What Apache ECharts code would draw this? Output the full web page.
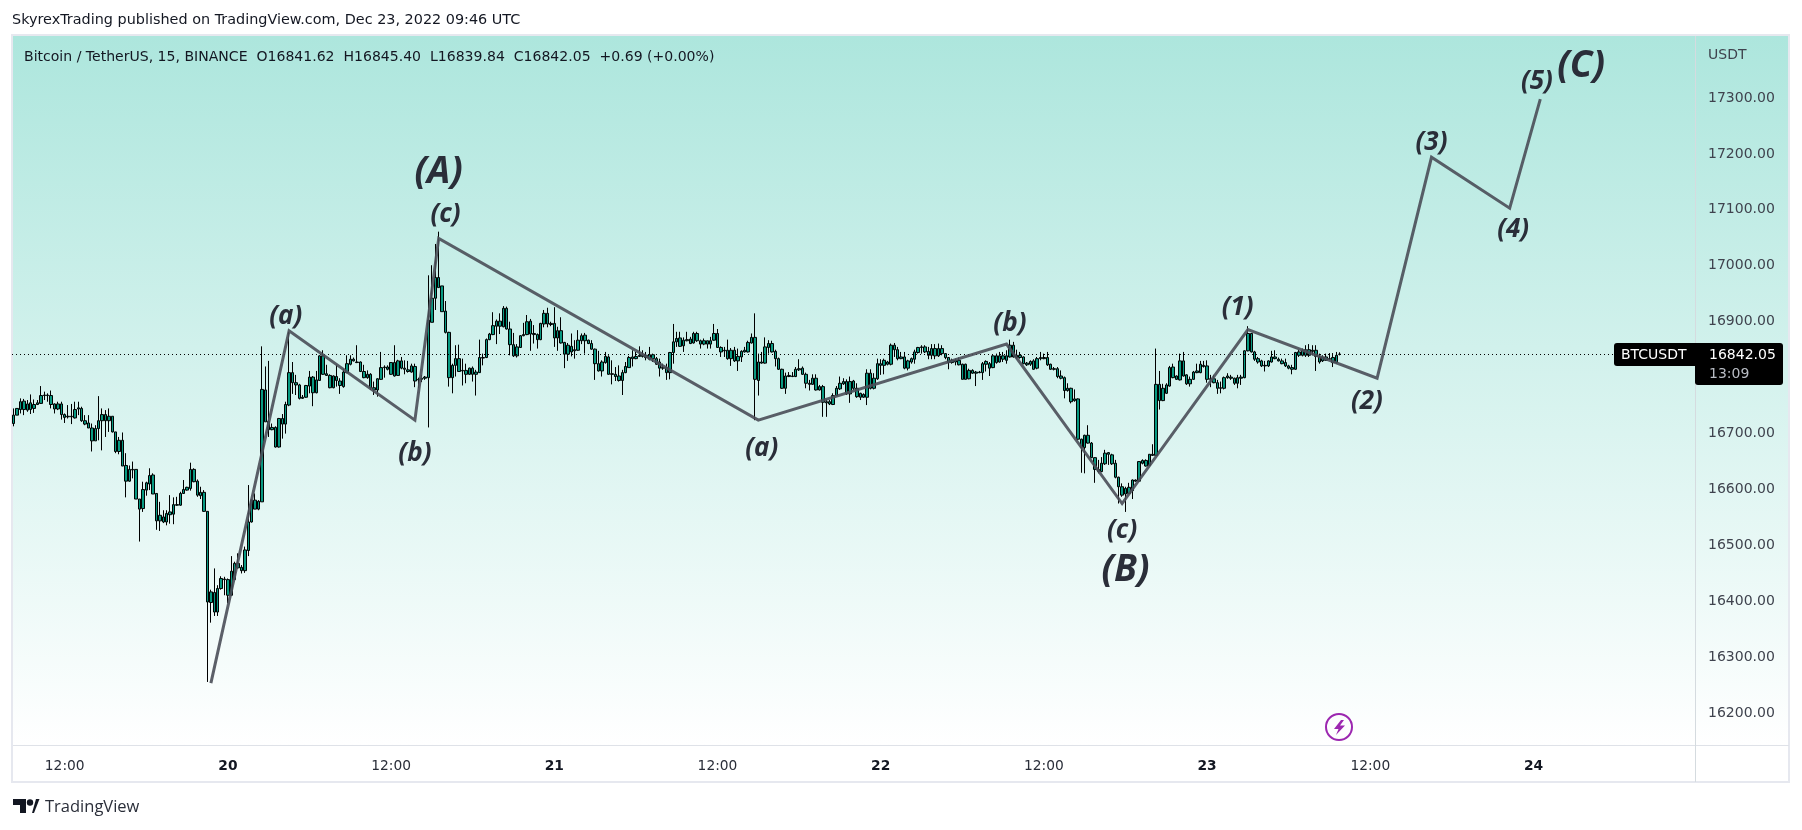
<!DOCTYPE html>
<html><head><meta charset="utf-8">
<style>html,body{margin:0;padding:0;background:#fff}#c{width:1802px;height:830px}</style>
<script src="https://cdn.jsdelivr.net/npm/echarts@6/dist/echarts.min.js"></script>
</head><body><div id="c"></div>
<script>
// 15-minute bars, first bar Dec 19 08:15.
// Both candle directions are drawn alike, so rows hold: body top, body bottom, high, low.
const bars = [
[16733,16718,16745,16713],[16745,16733,16745,16733],[16757,16743,16763,16736],[16758,16743,16762,16733],[16753,16742,16760,16739],
[16755,16743,16770,16735],[16752,16745,16761,16737],[16755,16752,16760,16751],[16768,16754,16785,16753],[16769,16768,16775,16760],
[16769,16768,16772,16757],[16768,16752,16777,16745],[16753,16744,16754,16736],[16753,16744,16757,16742],[16753,16734,16757,16725],
[16734,16729,16736,16719],[16731,16730,16751,16727],[16731,16730,16753,16717],[16743,16728,16757,16727],[16746,16744,16757,16733],
[16745,16723,16748,16721],[16723,16717,16733,16715],[16719,16710,16733,16710],[16710,16687,16718,16668],[16709,16687,16715,16687],
[16723,16709,16767,16688],[16734,16723,16745,16670],[16734,16723,16742,16694],[16731,16723,16745,16703],[16731,16703,16731,16702],
[16703,16668,16703,16665],[16688,16668,16694,16663],[16688,16642,16702,16642],[16643,16615,16665,16586],[16636,16615,16643,16614],
[16636,16635,16650,16620],[16636,16583,16636,16583],[16583,16565,16583,16507],[16600,16566,16614,16560],[16612,16599,16614,16589],
[16625,16610,16638,16599],[16626,16592,16629,16592],[16593,16544,16593,16528],[16554,16544,16578,16526],[16551,16542,16563,16540],
[16557,16542,16563,16536],[16560,16555,16590,16539],[16573,16556,16586,16538],[16573,16572,16587,16571],[16593,16572,16596,16571],
[16600,16593,16617,16592],[16604,16599,16605,16598],[16636,16602,16648,16598],[16636,16614,16638,16613],[16615,16590,16618,16587],
[16595,16589,16605,16583],[16595,16561,16599,16560],[16561,16399,16561,16256],[16417,16398,16421,16362],[16416,16381,16459,16374],
[16423,16381,16429,16374],[16441,16423,16445,16421],[16440,16439,16444,16411],[16439,16411,16441,16397],[16454,16411,16481,16410],
[16468,16439,16471,16439],[16468,16460,16486,16459],[16461,16455,16465,16450],[16492,16455,16498,16451],[16542,16491,16608,16481],
[16581,16542,16582,16541],[16581,16565,16593,16565],[16579,16565,16581,16563],[16779,16578,16856,16578],[16778,16721,16820,16721],
[16722,16707,16830,16694],[16711,16707,16718,16706],[16711,16676,16713,16675],[16727,16676,16728,16675],[16727,16717,16735,16691],
[16752,16717,16757,16700],[16809,16751,16882,16749],[16809,16791,16828,16771],[16791,16787,16805,16769],[16787,16763,16789,16761],
[16765,16763,16769,16762],[16786,16765,16787,16764],[16801,16785,16812,16772],[16801,16773,16803,16749],[16796,16773,16812,16772],
[16839,16795,16840,16794],[16839,16806,16849,16805],[16807,16804,16823,16803],[16804,16782,16806,16781],[16803,16782,16804,16781],
[16802,16795,16823,16784],[16794,16786,16799,16771],[16810,16784,16816,16782],[16825,16809,16840,16808],[16833,16824,16840,16822],
[16833,16830,16836,16829],[16828,16827,16858,16826],[16828,16811,16829,16810],[16811,16800,16823,16799],[16806,16800,16813,16798],
[16806,16782,16808,16778],[16782,16778,16793,16769],[16798,16778,16799,16766],[16818,16797,16846,16796],[16819,16818,16822,16800],
[16819,16815,16822,16813],[16827,16806,16828,16805],[16827,16803,16858,16802],[16830,16804,16832,16803],[16830,16817,16837,16815],
[16817,16815,16831,16806],[16814,16811,16830,16809],[16821,16810,16825,16809],[16820,16794,16825,16783],[16797,16796,16800,16781],
[16799,16797,16805,16792],[16801,16799,16803,16796],[16903,16800,16983,16711],[16942,16899,17001,16899],[16979,16942,17039,16921],
[16979,16961,17061,16961],[16964,16918,16964,16918],[16919,16881,16937,16879],[16881,16800,16882,16784],[16822,16800,16825,16772],
[16834,16822,16858,16802],[16834,16811,16859,16811],[16813,16812,16834,16786],[16813,16806,16825,16790],[16817,16806,16818,16805],
[16817,16806,16820,16793],[16810,16806,16814,16768],[16836,16809,16868,16809],[16836,16835,16843,16822],[16868,16836,16870,16835],
[16878,16868,16880,16867],[16893,16877,16917,16876],[16901,16892,16904,16860],[16901,16892,16915,16878],[16924,16891,16928,16890],
[16924,16887,16927,16886],[16887,16859,16900,16840],[16859,16839,16880,16837],[16855,16839,16860,16836],[16875,16854,16876,16853],
[16877,16875,16898,16874],[16900,16877,16912,16876],[16901,16878,16905,16848],[16879,16877,16894,16861],[16877,16868,16879,16852],
[16897,16868,16898,16867],[16915,16896,16921,16890],[16915,16896,16925,16890],[16897,16895,16900,16892],[16897,16871,16926,16855],
[16884,16871,16891,16848],[16884,16862,16908,16861],[16863,16842,16864,16817],[16858,16842,16862,16830],[16856,16846,16879,16838],
[16850,16848,16867,16834],[16867,16849,16885,16848],[16875,16866,16879,16860],[16876,16866,16880,16843],[16867,16861,16868,16860],
[16861,16851,16867,16850],[16851,16825,16852,16796],[16825,16812,16848,16811],[16828,16812,16831,16802],[16838,16827,16846,16825],
[16837,16806,16840,16805],[16807,16806,16831,16788],[16806,16802,16819,16794],[16803,16795,16822,16793],[16809,16795,16814,16769],
[16820,16809,16828,16808],[16836,16818,16839,16818],[16837,16834,16849,16820],[16838,16834,16846,16833],[16840,16838,16856,16837],
[16840,16838,16849,16836],[16840,16836,16846,16831],[16841,16833,16855,16831],[16841,16834,16843,16828],[16834,16824,16837,16823],
[16828,16817,16834,16802],[16818,16817,16825,16814],[16818,16809,16825,16796],[16845,16809,16846,16797],[16864,16845,16896,16825],
[16870,16864,16882,16855],[16871,16856,16882,16855],[16867,16857,16872,16846],[16868,16866,16882,16865],[16869,16861,16873,16860],
[16879,16862,16882,16861],[16879,16866,16882,16864],[16866,16860,16868,16852],[16866,16860,16870,16858],[16866,16860,16866,16852],
[16866,16860,16873,16852],[16879,16867,16896,16866],[16879,16854,16887,16853],[16854,16846,16856,16837],[16849,16848,16855,16837],
[16849,16834,16868,16832],[16849,16834,16853,16821],[16849,16830,16855,16828],[16838,16830,16852,16812],[16847,16837,16849,16828],
[16849,16846,16855,16845],[16863,16846,16866,16845],[16872,16862,16879,16861],[16872,16797,16915,16724],[16828,16795,16843,16768],
[16828,16826,16846,16825],[16855,16826,16872,16825],[16861,16854,16867,16843],[16861,16846,16866,16845],[16847,16834,16850,16820],
[16834,16815,16836,16814],[16815,16781,16816,16780],[16803,16781,16809,16771],[16804,16802,16810,16801],[16803,16802,16810,16801],
[16815,16802,16819,16801],[16816,16814,16833,16812],[16817,16806,16820,16805],[16806,16790,16809,16781],[16790,16788,16796,16777],
[16799,16788,16806,16787],[16799,16778,16806,16777],[16784,16778,16787,16777],[16784,16756,16787,16730],[16757,16755,16761,16730],
[16757,16753,16760,16751],[16768,16752,16772,16751],[16781,16768,16785,16767],[16790,16780,16802,16778],[16793,16789,16799,16787],
[16793,16771,16797,16769],[16793,16771,16802,16755],[16794,16781,16796,16778],[16781,16766,16790,16764],[16772,16765,16773,16760],
[16770,16765,16772,16764],[16808,16765,16815,16751],[16808,16781,16815,16779],[16799,16781,16808,16779],[16825,16798,16834,16796],
[16825,16822,16833,16805],[16831,16822,16834,16806],[16828,16824,16830,16822],[16858,16824,16861,16822],[16858,16850,16862,16837],
[16850,16834,16855,16831],[16837,16834,16846,16833],[16837,16817,16846,16815],[16830,16817,16832,16813],[16834,16828,16836,16825],
[16846,16833,16850,16825],[16854,16845,16855,16843],[16855,16854,16858,16843],[16855,16846,16858,16844],[16847,16840,16855,16833],
[16852,16840,16860,16833],[16852,16839,16860,16833],[16852,16839,16861,16837],[16852,16843,16858,16840],[16843,16836,16844,16833],
[16836,16827,16837,16815],[16831,16827,16834,16825],[16831,16828,16834,16822],[16831,16823,16836,16822],[16824,16797,16825,16797],
[16824,16797,16825,16797],[16813,16798,16816,16797],[16813,16808,16815,16807],[16810,16808,16812,16785],[16810,16809,16812,16808],
[16825,16809,16828,16796],[16829,16824,16831,16811],[16825,16817,16828,16803],[16839,16818,16840,16817],[16839,16827,16843,16825],
[16839,16828,16846,16827],[16839,16833,16846,16828],[16839,16831,16849,16825],[16858,16837,16868,16836],[16858,16837,16864,16836],
[16840,16836,16850,16834],[16840,16836,16846,16834],[16837,16825,16838,16824],[16826,16823,16828,16821],[16829,16824,16831,16821],
[16830,16815,16833,16814],[16834,16817,16837,16815],[16836,16834,16846,16831],[16836,16834,16843,16833],[16836,16823,16846,16821],
[16824,16815,16825,16814],[16816,16815,16819,16813],[16816,16802,16819,16799],[16803,16799,16813,16797],[16800,16777,16802,16763],
[16781,16777,16790,16775],[16781,16757,16782,16754],[16762,16759,16779,16757],[16762,16690,16763,16688],[16690,16675,16691,16630],
[16697,16675,16698,16629],[16697,16683,16715,16682],[16683,16657,16685,16656],[16657,16636,16658,16612],[16636,16632,16653,16629],
[16647,16632,16658,16631],[16665,16646,16671,16644],[16666,16663,16667,16644],[16662,16646,16664,16644],[16647,16622,16653,16620],
[16622,16605,16623,16575],[16605,16590,16611,16587],[16602,16592,16605,16560],[16604,16593,16612,16592],[16617,16598,16618,16583],
[16617,16615,16618,16614],[16650,16615,16651,16614],[16652,16647,16654,16645],[16652,16642,16654,16641],[16663,16643,16663,16642],
[16663,16661,16681,16660],[16788,16661,16852,16660],[16788,16759,16812,16743],[16781,16759,16789,16758],[16787,16772,16790,16771],
[16818,16785,16821,16784],[16819,16800,16825,16799],[16803,16797,16804,16796],[16830,16796,16843,16795],[16830,16803,16846,16802],
[16805,16789,16806,16787],[16797,16789,16802,16784],[16810,16797,16812,16796],[16812,16809,16825,16808],[16824,16809,16830,16808],
[16822,16820,16830,16818],[16821,16797,16831,16791],[16798,16797,16805,16783],[16798,16791,16805,16790],[16791,16781,16796,16771],
[16782,16781,16793,16772],[16800,16781,16802,16779],[16803,16800,16808,16798],[16801,16799,16805,16796],[16799,16790,16800,16787],
[16800,16790,16805,16781],[16801,16799,16805,16787],[16848,16800,16849,16799],[16879,16848,16892,16847],[16879,16846,16880,16845],
[16846,16833,16848,16830],[16834,16828,16837,16825],[16830,16821,16832,16819],[16822,16821,16830,16811],[16830,16821,16831,16819],
[16837,16828,16848,16827],[16837,16834,16849,16833],[16833,16830,16836,16829],[16830,16825,16834,16824],[16827,16821,16834,16819],
[16821,16817,16823,16815],[16818,16815,16823,16806],[16845,16815,16846,16814],[16846,16840,16850,16837],[16849,16840,16852,16838],
[16850,16840,16858,16837],[16850,16840,16860,16837],[16849,16847,16858,16840],[16849,16838,16858,16812],[16837,16828,16843,16825],
[16837,16830,16840,16828],[16837,16831,16843,16830],[16834,16833,16844,16832],[16836,16827,16844,16819],[16840,16827,16846,16825],
[16842.05,16841.62,16845.40,16839.84]
];
// Elliott-wave drawing: bar slot and price of each vertex
const waveSlots  = [58,81,118,125,219,292,326,363,401,417,440,449];
const wavePrices = [16254,16884,16724,17049,16724,16860,16575,16886,16799,17194,17103,17298];
// wave annotations: text, bar slot, price
const bigLabels = [['(A)',125,17167],['(B)',327,16456],['(C)',461,17356]];
const smallLabels = [['(a)',80,16910],['(b)',118,16665],['(c)',127,17091],['(a)',220,16674],['(b)',293,16896],
  ['(c)',326,16526],['(1)',360,16925],['(2)',398,16758],['(3)',417,17220],['(4)',441,17064],['(5)',448,17329]];
const priceTicks = [16200,16300,16400,16500,16600,16700,16800,16900,17000,17100,17200,17300];
const lastPrice = 16842.05;
const slotCount = 495;
// time axis: tick slots and their labels
const timeTicks = {15:'12:00',63:'20',111:'12:00',159:'21',207:'12:00',255:'22',303:'12:00',351:'23',399:'12:00',447:'24'};
const categories = Array.from({length:slotCount},(_, i)=>'slot'+i);

const chartTitle = 'SkyrexTrading published on TradingView.com, Dec 23, 2022 09:46 UTC';
const legendText = 'Bitcoin / TetherUS, 15, BINANCE  O16841.62  H16845.40  L16839.84  C16842.05  +0.69 (+0.00%)';
const FONT = '"DejaVu Sans", sans-serif';
const LABELFONT = '"Open Sans", sans-serif';
const INK = '#2a2e39';

const chart = echarts.init(document.getElementById('c'), null, {renderer:'canvas', width:1802, height:830});
chart.setOption({
  animation:false,
  backgroundColor:'#ffffff',
  title:{text:chartTitle,left:12,top:13,padding:0,textStyle:{fontFamily:FONT,fontSize:14.4,fontWeight:'normal',color:'#131722'}},
  grid:{left:12,top:36,width:1683,height:709,containLabel:false,show:false},
  xAxis:{type:'category',data:categories,boundaryGap:true,
    axisLine:{show:false},axisTick:{show:false},splitLine:{show:false},
    axisLabel:{margin:14,interval:(i)=>timeTicks[i]!==undefined,hideOverlap:false,
      formatter:(v,i)=>{const t=timeTicks[i];return t===undefined?'':(t.length===2?'{d|'+t+'}':t);},
      color:'#2a2e39',fontFamily:FONT,fontSize:13.8,
      rich:{d:{fontFamily:FONT,fontSize:13.8,fontWeight:'bold',color:'#131722'}}}},
  yAxis:{type:'value',position:'right',min:16143.3,max:17410.8,
    axisLine:{show:false},axisTick:{show:false},splitLine:{show:false},
    axisLabel:{customValues:priceTicks,margin:13,padding:[3,0,0,0],formatter:(v)=>v.toFixed(2),color:'#3f434e',fontFamily:FONT,fontSize:14}},
  series:[
    {type:'candlestick',name:'BTCUSDT',barWidth:3,z:3,
     itemStyle:{color:'#089981',color0:'#089981',borderColor:'#000000',borderColor0:'#000000',borderWidth:1},
     data:bars.map(b=>[b[1],b[0],b[3],b[2]]),
     markLine:{silent:true,symbol:'none',animation:false,label:{show:false},
       lineStyle:{color:'#000000',type:[1,3],width:1},data:[{yAxis:lastPrice}]}},
    {type:'line',name:'Waves',z:5,symbol:'none',silent:true,
     lineStyle:{color:'#4a4e58',width:3,opacity:0.9,join:'miter'},
     data:waveSlots.map((s,i)=>[s,wavePrices[i]])},
    {type:'scatter',name:'Major',z:6,symbolSize:0,silent:true,itemStyle:{opacity:1},
     label:{show:true,position:'inside',formatter:(p)=>p.data[2],fontFamily:LABELFONT,fontStyle:'italic',fontWeight:'bold',fontSize:37,color:INK},
     data:bigLabels.map(l=>[l[1],l[2],l[0]])},
    {type:'scatter',name:'Minor',z:6,symbolSize:0,silent:true,itemStyle:{opacity:1},
     label:{show:true,position:'inside',formatter:(p)=>p.data[2],fontFamily:LABELFONT,fontStyle:'italic',fontWeight:'bold',fontSize:26,color:INK},
     data:smallLabels.map(l=>[l[1],l[2],l[0]])}
  ],
  graphic:[
    {type:'rect',z:-10,shape:{x:13,y:36,width:1776,height:709},
     style:{fill:new echarts.graphic.LinearGradient(0,0,0,1,[{offset:0,color:'#ade6dd'},{offset:1,color:'#ffffff'}])}},
    {type:'rect',z:-9,shape:{x:12,y:35,width:1777,height:747},style:{fill:'none',stroke:'#e6e8ef',lineWidth:2}},
    {type:'rect',z:-9,shape:{x:13,y:745,width:1776,height:1},style:{fill:'#dfe2e8'}},
    {type:'rect',z:-9,shape:{x:1695,y:36,width:1,height:746},style:{fill:'#d5dbdf'}},
    {type:'text',z:20,style:{text:legendText,x:24,y:57,verticalAlign:'middle',fontFamily:FONT,fontSize:14.05,fill:'#131722'}},
    {type:'text',z:20,style:{text:'USDT',x:1708,y:55,verticalAlign:'middle',fontFamily:FONT,fontSize:14,fill:'#3f434e'}},
    {type:'rect',z:20,shape:{x:1614,y:343,width:82,height:23,r:[3,0,0,3]},style:{fill:'#000'}},
    {type:'rect',z:20,shape:{x:1695,y:343,width:88,height:42,r:[0,3,3,3]},style:{fill:'#000'}},
    {type:'text',z:21,style:{text:'BTCUSDT',x:1621,y:355,verticalAlign:'middle',fontFamily:FONT,fontSize:14,fill:'#fff'}},
    {type:'text',z:21,style:{text:lastPrice.toFixed(2),x:1709,y:355,verticalAlign:'middle',fontFamily:FONT,fontSize:14,fill:'#fff'}},
    {type:'text',z:21,style:{text:'13:09',x:1709,y:374,verticalAlign:'middle',fontFamily:FONT,fontSize:14,fill:'#b8bcc4'}},
    {type:'circle',z:20,shape:{cx:1339,cy:727,r:13},style:{fill:'rgba(255,255,255,0)',stroke:'#9c27b0',lineWidth:2}},
    {type:'polygon',z:20,shape:{points:[[1341,720],[1334,729],[1338.5,729],[1336,735],[1345,725.5],[1340,725.5],[1344,720]]},style:{fill:'#9c27b0'}},
    {type:'polygon',z:20,shape:{points:[[13,799],[26,799],[26,813],[20,813],[20,805],[13,805]]},style:{fill:'#131722'}},
    {type:'circle',z:20,shape:{cx:30,cy:802.5,r:3.2},style:{fill:'#131722'}},
    {type:'polygon',z:20,shape:{points:[[32,813],[36,799],[39.5,799],[34,813]]},style:{fill:'#131722'}},
    {type:'text',z:20,style:{text:'TradingView',x:45,y:807,verticalAlign:'middle',fontFamily:LABELFONT,fontSize:16.5,fill:'#2a2e39'}}
  ]
});
</script></body></html>
